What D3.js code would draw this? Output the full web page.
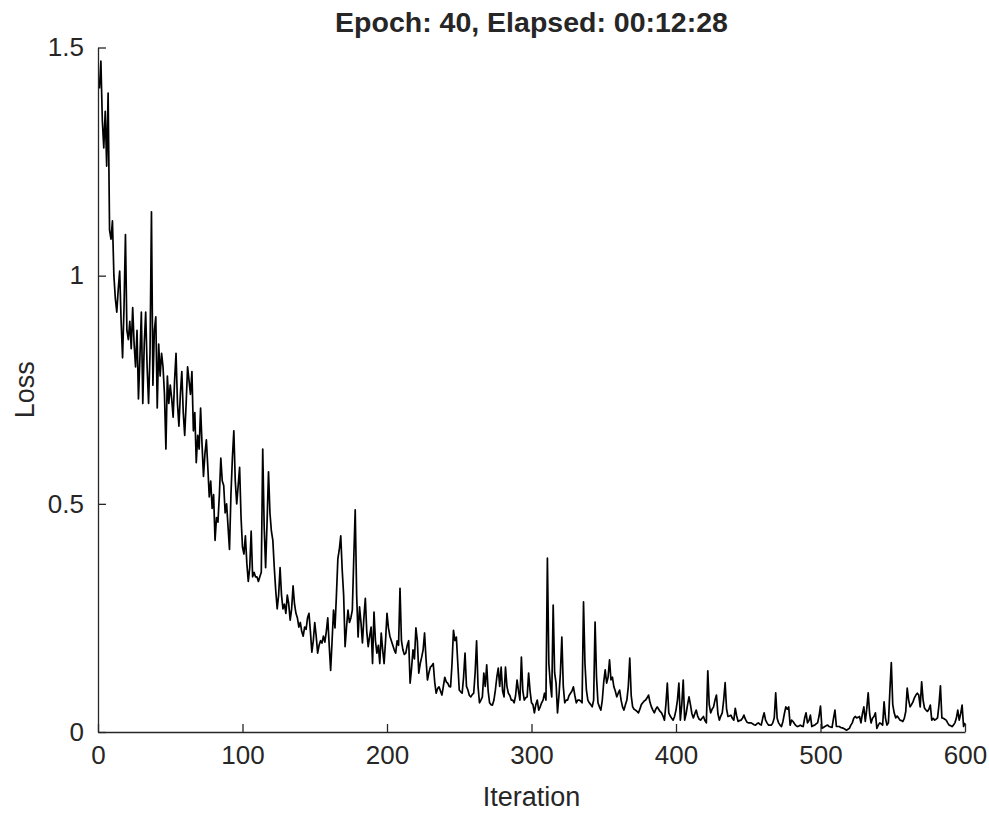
<!DOCTYPE html>
<html>
<head>
<meta charset="utf-8">
<script src="https://cdn.jsdelivr.net/npm/d3@7"></script>
<style>
  html, body { margin: 0; padding: 0; background: #ffffff; }
  svg { display: block; }
  text { font-family: "Liberation Sans", Arial, Helvetica, sans-serif; fill: #262626; }
</style>
</head>
<body>
<svg id="chart" width="989" height="814"></svg>
<script>
// Training loss per iteration (iterations 1..600, 40 epochs)
const loss = [
  1.41, 1.47, 1.34, 1.28, 1.36, 1.24, 1.40, 1.10, 1.08, 1.12,
  1.00, 0.95, 0.92, 0.97, 1.01, 0.90, 0.82, 0.93, 1.09, 0.88,
  0.86, 0.90, 0.84, 0.93, 0.85, 0.80, 0.88, 0.73, 0.82, 0.92,
  0.72, 0.85, 0.92, 0.80, 0.72, 0.83, 1.14, 0.76, 0.88, 0.91,
  0.71, 0.85, 0.78, 0.83, 0.80, 0.74, 0.62, 0.78, 0.72, 0.76,
  0.73, 0.69, 0.77, 0.83, 0.72, 0.67, 0.74, 0.79, 0.70, 0.65,
  0.72, 0.80, 0.77, 0.74, 0.79, 0.66, 0.70, 0.59, 0.65, 0.62,
  0.71, 0.63, 0.56, 0.61, 0.64, 0.58, 0.515, 0.55, 0.49, 0.52,
  0.42, 0.47, 0.46, 0.52, 0.60, 0.55, 0.54, 0.48, 0.50, 0.45,
  0.40, 0.52, 0.60, 0.66, 0.55, 0.50, 0.54, 0.58, 0.47, 0.405,
  0.39, 0.43, 0.37, 0.33, 0.36, 0.44, 0.34, 0.35, 0.34, 0.34,
  0.33, 0.34, 0.35, 0.62, 0.45, 0.36, 0.46, 0.57, 0.48, 0.44,
  0.42, 0.36, 0.31, 0.27, 0.30, 0.36, 0.30, 0.27, 0.28, 0.26,
  0.30, 0.28, 0.245, 0.27, 0.32, 0.28, 0.26, 0.25, 0.23, 0.24,
  0.22, 0.21, 0.23, 0.225, 0.25, 0.26, 0.22, 0.175, 0.20, 0.24,
  0.21, 0.173, 0.19, 0.20, 0.195, 0.21, 0.197, 0.22, 0.25, 0.19,
  0.135, 0.20, 0.267, 0.228, 0.30, 0.38, 0.40, 0.43, 0.355, 0.30,
  0.187, 0.23, 0.267, 0.24, 0.25, 0.267, 0.38, 0.487, 0.30, 0.208,
  0.274, 0.24, 0.195, 0.25, 0.293, 0.22, 0.187, 0.21, 0.23, 0.15,
  0.263, 0.20, 0.173, 0.19, 0.15, 0.217, 0.18, 0.15, 0.20, 0.26,
  0.228, 0.21, 0.20, 0.19, 0.18, 0.173, 0.20, 0.19, 0.315, 0.20,
  0.18, 0.17, 0.173, 0.19, 0.20, 0.107, 0.14, 0.18, 0.16, 0.228,
  0.20, 0.129, 0.15, 0.164, 0.18, 0.217, 0.16, 0.114, 0.13, 0.142,
  0.145, 0.15, 0.11, 0.085, 0.095, 0.099, 0.09, 0.081, 0.10, 0.12,
  0.11, 0.107, 0.10, 0.099, 0.15, 0.223, 0.20, 0.208, 0.15, 0.092,
  0.088, 0.085, 0.12, 0.173, 0.10, 0.092, 0.08, 0.077, 0.082, 0.085,
  0.13, 0.20, 0.10, 0.064, 0.07, 0.077, 0.129, 0.10, 0.147, 0.09,
  0.064, 0.06, 0.059, 0.07, 0.092, 0.12, 0.14, 0.10, 0.142, 0.09,
  0.077, 0.142, 0.10, 0.085, 0.08, 0.07, 0.07, 0.064, 0.08, 0.114,
  0.09, 0.07, 0.164, 0.09, 0.07, 0.075, 0.077, 0.129, 0.09, 0.064,
  0.06, 0.042, 0.06, 0.07, 0.048, 0.055, 0.064, 0.07, 0.085, 0.07,
  0.381, 0.15, 0.107, 0.077, 0.278, 0.13, 0.107, 0.042, 0.08, 0.129,
  0.208, 0.10, 0.064, 0.07, 0.07, 0.08, 0.085, 0.09, 0.099, 0.08,
  0.064, 0.07, 0.07, 0.068, 0.064, 0.285, 0.15, 0.092, 0.07, 0.064,
  0.06, 0.055, 0.07, 0.241, 0.12, 0.064, 0.055, 0.048, 0.07, 0.11,
  0.136, 0.107, 0.12, 0.158, 0.114, 0.12, 0.099, 0.09, 0.077, 0.085,
  0.092, 0.07, 0.055, 0.048, 0.06, 0.07, 0.10, 0.162, 0.08, 0.055,
  0.05, 0.048, 0.045, 0.042, 0.05, 0.06, 0.064, 0.068, 0.07, 0.075,
  0.081, 0.065, 0.055, 0.048, 0.042, 0.05, 0.055, 0.05, 0.045, 0.042,
  0.035, 0.026, 0.06, 0.107, 0.042, 0.035, 0.03, 0.026, 0.034, 0.048,
  0.07, 0.107, 0.026, 0.06, 0.114, 0.026, 0.04, 0.06, 0.077, 0.06,
  0.04, 0.031, 0.04, 0.048, 0.035, 0.028, 0.026, 0.03, 0.034, 0.025,
  0.02, 0.134, 0.06, 0.042, 0.05, 0.055, 0.07, 0.081, 0.04, 0.026,
  0.035, 0.042, 0.07, 0.108, 0.05, 0.034, 0.035, 0.037, 0.03, 0.026,
  0.052, 0.035, 0.023, 0.025, 0.026, 0.03, 0.037, 0.028, 0.022, 0.02,
  0.02, 0.02, 0.018, 0.016, 0.015, 0.018, 0.02, 0.017, 0.015, 0.03,
  0.042, 0.026, 0.02, 0.015, 0.015, 0.015, 0.02, 0.031, 0.086, 0.03,
  0.02, 0.015, 0.012, 0.023, 0.04, 0.055, 0.05, 0.055, 0.015, 0.026,
  0.023, 0.018, 0.014, 0.012, 0.013, 0.015, 0.013, 0.012, 0.03, 0.042,
  0.02, 0.025, 0.037, 0.012, 0.014, 0.015, 0.018, 0.02, 0.035, 0.057,
  0.008, 0.01, 0.012, 0.014, 0.015, 0.012, 0.011, 0.01, 0.03, 0.048,
  0.012, 0.012, 0.012, 0.01, 0.009, 0.008, 0.006, 0.004, 0.006, 0.008,
  0.015, 0.02, 0.03, 0.034, 0.031, 0.032, 0.034, 0.02, 0.04, 0.055,
  0.023, 0.05, 0.086, 0.04, 0.02, 0.03, 0.034, 0.042, 0.008, 0.015,
  0.02, 0.018, 0.015, 0.066, 0.03, 0.015, 0.02, 0.09, 0.152, 0.06,
  0.042, 0.031, 0.035, 0.031, 0.026, 0.025, 0.023, 0.03, 0.045, 0.096,
  0.07, 0.055, 0.06, 0.066, 0.075, 0.081, 0.085, 0.081, 0.055, 0.11,
  0.07, 0.052, 0.048, 0.045, 0.05, 0.059, 0.026, 0.03, 0.026, 0.028,
  0.031, 0.06, 0.101, 0.031, 0.03, 0.028, 0.026, 0.02, 0.015, 0.014,
  0.012, 0.015, 0.02, 0.03, 0.048, 0.026, 0.04, 0.059, 0.012, 0.02
];

const xTicks = [0, 100, 200, 300, 400, 500, 600];
const yTicks = [0, 0.5, 1, 1.5];
const xDomain = [0, 600];
const yDomain = [0, 1.5];
const titleText = "Epoch: 40, Elapsed: 00:12:28";
const xLabel = "Iteration";
const yLabel = "Loss";

const svg = d3.select("#chart");
const margin = { left: 98, right: 24, top: 47.5, bottom: 82 };
const W = 989, H = 814;

const x = d3.scaleLinear().domain(xDomain).range([margin.left, W - margin.right]);
const y = d3.scaleLinear().domain(yDomain).range([H - margin.bottom, margin.top]);

const axisColor = "#262626";
const tickLen = 8;

// loss curve
const points = loss.map((v, i) => [i + 1, v]);
svg.append("path")
  .datum(points)
  .attr("fill", "none")
  .attr("stroke", "#000")
  .attr("stroke-width", 1.7)
  .attr("stroke-linejoin", "round")
  .attr("d", d3.line().x(d => x(d[0])).y(d => y(d[1])));

// bottom axis, ticks pointing inward
const xAxis = svg.append("g")
  .attr("transform", `translate(0,${y(0)})`)
  .call(d3.axisBottom(x).tickValues(xTicks).tickSize(-tickLen).tickPadding(14).tickSizeOuter(0).tickFormat(d3.format("d")));

// left axis, ticks pointing inward
const yAxis = svg.append("g")
  .attr("transform", `translate(${x(0)},0)`)
  .call(d3.axisLeft(y).tickValues(yTicks).tickSize(-tickLen).tickPadding(14).tickSizeOuter(0).tickFormat(d => d3.format("")(d)));

[xAxis, yAxis].forEach(g => {
  g.select(".domain").attr("stroke", axisColor).attr("stroke-width", 1.3);
  g.selectAll(".tick line").attr("stroke", axisColor).attr("stroke-width", 1.3);
  g.selectAll(".tick text")
    .attr("fill", axisColor)
    .style("font-family", '"Liberation Sans", Arial, sans-serif')
    .style("font-size", "26px");
});
xAxis.selectAll(".tick text").attr("dy", "0.71em");

// title
svg.append("text")
  .attr("x", (x(0) + x(600)) / 2)
  .attr("y", 32)
  .attr("text-anchor", "middle")
  .style("font-size", "28.5px")
  .style("font-weight", "bold")
  .text(titleText);

// axis labels
svg.append("text")
  .attr("x", (x(0) + x(600)) / 2)
  .attr("y", 806)
  .attr("text-anchor", "middle")
  .style("font-size", "27px")
  .text(xLabel);

svg.append("text")
  .attr("transform", `translate(34,${(y(0) + y(1.5)) / 2}) rotate(-90)`)
  .attr("text-anchor", "middle")
  .style("font-size", "27px")
  .text(yLabel);
</script>
</body>
</html>
